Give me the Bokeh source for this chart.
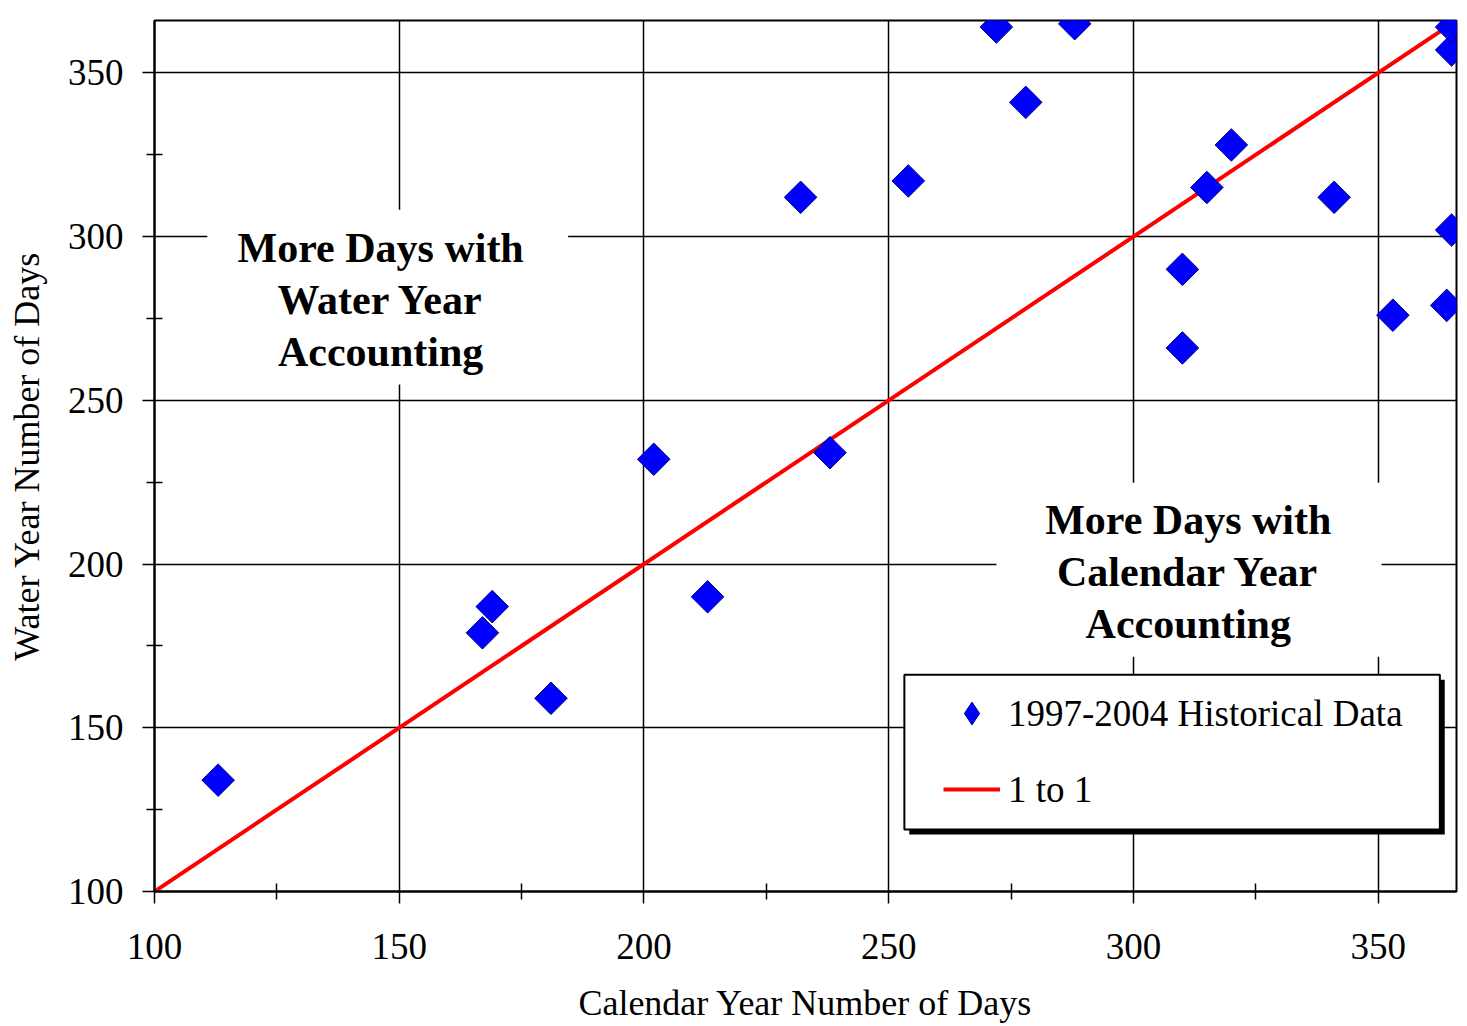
import math
from bokeh.plotting import figure
from bokeh.models import FixedTicker, BoxAnnotation, Label, Legend, LegendItem, Range1d
from bokeh.embed import file_html
from bokeh.resources import INLINE

# ---- data ----
calendar_days = [113, 167, 169, 181, 202, 213, 232, 238, 254, 272, 278, 288,
                 310, 310, 315, 320, 341, 353, 364, 365, 365, 365, 366]
water_days = [134, 179, 187, 159, 232, 190, 312, 234, 317, 364, 341, 365,
              290, 266, 315, 328, 312, 276, 279, 302, 357, 364, 366]
one_to_one = [97, 367]
major_ticks = [100, 150, 200, 250, 300, 350]
minor_ticks = [125, 175, 225, 275, 325]

FONT = "Liberation Serif"

p = figure(width=1462, height=1025, output_backend="svg", toolbar_location=None,
           x_range=Range1d(100, 366), y_range=Range1d(100, 366),
           min_border_left=154, min_border_top=20, min_border_right=6,
           min_border_bottom=133)

p.background_fill_color = "white"
p.border_fill_color = "white"
p.outline_line_color = "black"
p.outline_line_width = 2

for ax in (p.xaxis[0], p.yaxis[0]):
    ax.ticker = FixedTicker(ticks=major_ticks, minor_ticks=minor_ticks)
    ax.axis_line_color = "black"
    ax.axis_line_width = 2
    ax.major_tick_line_color = "black"
    ax.major_tick_line_width = 1.5
    ax.major_tick_in = 0
    ax.major_tick_out = 12
    ax.minor_tick_line_color = "black"
    ax.minor_tick_line_width = 1.5
    ax.minor_tick_in = 8
    ax.minor_tick_out = 8
    ax.major_label_text_font = FONT
    ax.major_label_text_font_size = "37px"
    ax.major_label_text_color = "black"
    ax.axis_label_text_font = FONT
    ax.axis_label_text_font_size = "36px"
    ax.axis_label_text_font_style = "normal"
    ax.axis_label_text_color = "black"

p.xaxis.axis_label = "Calendar Year Number of Days"
p.yaxis.axis_label = "Water Year Number of Days"
p.xaxis.major_label_standoff = 30
p.xaxis.axis_label_standoff = 21
p.yaxis.major_label_standoff = 19
p.yaxis.axis_label_standoff = 18

p.grid.grid_line_color = "black"
p.grid.grid_line_width = 1.5
p.grid.ticker = FixedTicker(ticks=major_ticks)

# white boxes behind the annotation texts
p.add_layout(BoxAnnotation(left=110.8, right=184.5, bottom=254.8, top=308.2,
                           fill_color="white", fill_alpha=1, line_alpha=0))
p.add_layout(BoxAnnotation(left=272.0, right=350.7, bottom=171.7, top=224.8,
                           fill_color="white", fill_alpha=1, line_alpha=0))

line_r = p.line(one_to_one, one_to_one, line_color="#FF0000", line_width=4)
pts_r = p.scatter(calendar_days, water_days, marker="square", size=23,
                  angle=math.pi / 4, fill_color="#0000FF", line_color="#00008B",
                  line_width=1)
# proxy renderer (draws nothing in the plot) so that the legend shows a diamond
proxy_r = p.scatter([float("nan")], [float("nan")], marker="diamond",
                    fill_color="#0000FF", line_color="#00008B", line_width=1)

for txt, yy in [("More Days with", 296.6), ("Water Year", 280.7), ("Accounting", 264.8)]:
    p.add_layout(Label(x=146.2, y=yy, text=txt, text_font=FONT, text_font_size="42px",
                       text_font_style="bold", text_align="center",
                       text_baseline="middle", text_color="black"))
for txt, yy in [("More Days with", 213.6), ("Calendar Year", 197.7), ("Accounting", 181.8)]:
    p.add_layout(Label(x=311.2, y=yy, text=txt, text_font=FONT, text_font_size="42px",
                       text_font_style="bold", text_align="center",
                       text_baseline="middle", text_color="black"))

# legend frame with shadow
p.add_layout(BoxAnnotation(left=254.2, right=363.6, bottom=117.4, top=164.7,
                           fill_color="black", fill_alpha=1, line_alpha=0))
p.add_layout(BoxAnnotation(left=253.2, right=362.6, bottom=118.9, top=166.2,
                           fill_color="white", fill_alpha=1, line_color="black",
                           line_width=2, line_alpha=1))

legend = Legend(items=[LegendItem(label="1997-2004 Historical Data", renderers=[proxy_r]),
                       LegendItem(label="1 to 1", renderers=[line_r])],
                location=(789, 73), orientation="vertical",
                padding=0, margin=0, spacing=18,
                glyph_width=57, glyph_height=58, label_height=58,
                label_standoff=8,
                label_text_font=FONT, label_text_font_size="37px",
                label_text_color="black",
                border_line_alpha=0, background_fill_alpha=0)
p.add_layout(legend)

open("out.html", "w").write(file_html(p, INLINE))
